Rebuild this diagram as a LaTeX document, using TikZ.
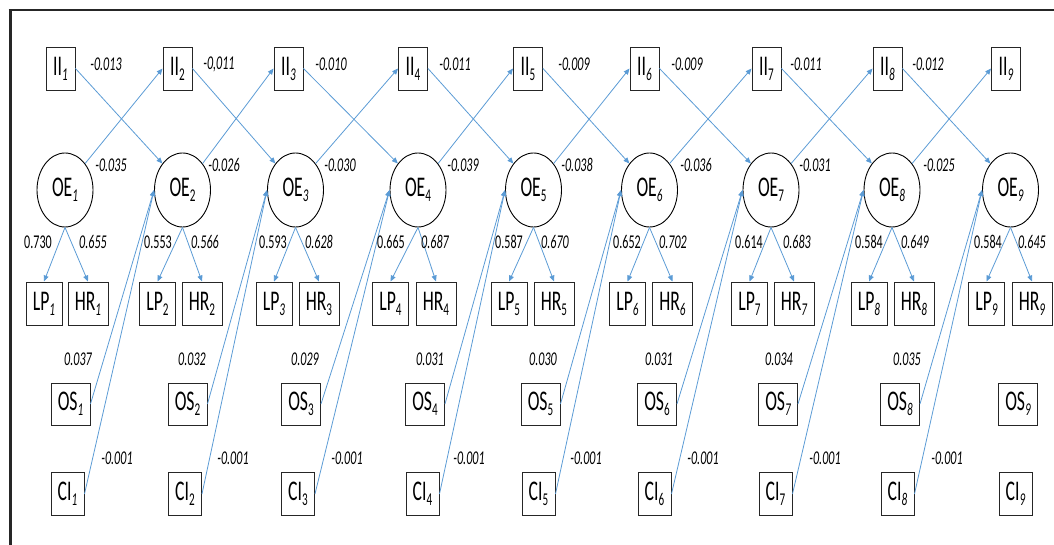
\documentclass[tikz,border=0pt]{standalone}
\usepackage{fontspec}
\setmainfont{Carlito}[FakeStretch=0.62]
\usetikzlibrary{arrows.meta,shapes.geometric}
\definecolor{arrowblue}{RGB}{91,155,213}
\definecolor{framegrey}{RGB}{38,38,38}
% subscripts: upright or italic
\newcommand\subup[1]{\raisebox{-5pt}{\fontsize{18}{18}\selectfont\upshape #1}}
\newcommand\subit[1]{\raisebox{-5pt}{\fontsize{18}{18}\selectfont\itshape #1}}
\begin{document}
\begin{tikzpicture}[x=1pt,y=-1pt,
  box/.style={draw=black!85, line width=0.95pt, inner sep=0pt, minimum height=43pt,
    font=\fontsize{28.5}{28.5}\selectfont},
  latent/.style={ellipse, draw=black, line width=0.9pt, inner sep=0pt,
    minimum width=56pt, minimum height=74pt, font=\fontsize{28.5}{28.5}\selectfont},
  arr/.style={draw=arrowblue, line width=0.8pt, -{Triangle[length=6pt,width=5pt]}},
  coef/.style={inner sep=0pt, font=\fontsize{19.5}{19.5}\selectfont\itshape},
  coefup/.style={inner sep=0pt, font=\fontsize{19.5}{19.5}\selectfont},
  frame/.style={draw=framegrey}]
\useasboundingbox (0,0) rectangle (1054,545);

% frame
\draw[frame, line width=3pt] (10,545) -- (10,10);
\draw[frame, line width=2pt] (8.5,10) -- (1054,10);

% observed indicators II
\foreach \i/\x/\s in {1/60.5/subit,2/177.5/subup,3/288.5/subit,4/413/subup,5/528/subup,
    6/644.5/subit,7/766.5/subup,8/887.5/subit,9/1006/subit}
  \node[box, minimum width=29pt] (II\i) at (\x,68.5) {II\csname\s\endcsname{\i}};

% latent OE
\foreach \i/\x/\s in {1/65/subit,2/182.5/subup,3/295.5/subit,4/418/subup,5/533.5/subup,
    6/649.5/subit,7/771/subup,8/892/subit,9/1010.5/subit}
  \node[latent] (OE\i) at (\x,190) {OE\csname\s\endcsname{\i}};

% indicators LP and HR
\foreach \i/\x/\s in {1/44/subit,2/157.5/subup,3/274/subit,4/390.5/subup,5/509/subup,
    6/627.5/subit,7/749.5/subup,8/869/subit,9/986.5/subit}
  \node[box, minimum width=36pt] (LP\i) at (\x,303.5) {LP\csname\s\endcsname{\i}};
\foreach \i/\x/\s in {1/88/subit,2/202/subup,3/319/subup,4/436/subup,5/554/subup,
    6/672.5/subit,7/794/subit,8/914/subit,9/1032/subit}
  \node[box, minimum width=40pt] (HR\i) at (\x,303.5) {HR\csname\s\endcsname{\i}};

% covariates OS and CI
\foreach \i/\x/\s in {1/70.5/subit,2/187.5/subup,3/301/subup,4/425/subup,5/540.5/subup,
    6/657/subup,7/778/subit,8/900/subit,9/1018/subit}
  \node[box, minimum width=39pt, minimum height=42pt] (OS\i) at (\x,404) {OS\csname\s\endcsname{\i}};
\foreach \i/\x/\s in {1/67.5/subit,2/185/subup,3/298/subup,4/422.5/subup,5/538.5/subup,
    6/654.5/subup,7/775.5/subup,8/897.5/subit,9/1015.5/subit}
  \node[box, minimum width=33pt] (CI\i) at (\x,494) {CI\csname\s\endcsname{\i}};

% loadings
\foreach \i in {1,...,9} {
  \draw[arr] (OE\i.south) -- (LP\i.north);
  \draw[arr] (OE\i.south) -- (HR\i.north);
}

% cross-lagged and covariate paths
\foreach \i in {1,...,8} {
  \pgfmathtruncatemacro\j{\i+1}
  \draw[arr] (II\i.east) -- (OE\j.north west);
  \draw[arr] (OE\i.north east) -- (II\j.west);
  \draw[arr] (OS\i.east) -- (OE\j.west);
  \draw[arr] (CI\i.east) -- (OE\j.west);
}

% coefficients II -> OE
\foreach \i/\x/\v in {1/106/-0.013,2/219/{-0,011},3/331/-0.010,4/455/-0.011,5/574/-0.009,
    6/687/-0.009,7/806/-0.011,8/928/-0.012}
  \node[coef] (cII\i) at (\x,64) {\v};
% coefficients OE -> II
\foreach \i/\x/\v in {1/111/-0.035,2/224/-0.026,3/340/-0.030,4/463/-0.039,5/577/-0.038,
    6/696/-0.036,7/815/-0.031,8/939/-0.025}
  \node[coef] (cOE\i) at (\x,165) {\v};
% loadings on LP and HR
\foreach \i/\x/\v in {1/38/0.730,2/158/0.553,3/273/0.593,4/391/0.665,5/509/0.587,
    6/627/0.652,7/749/0.614,8/869/0.584,9/988/0.584}
  \node[coefup] (cLP\i) at (\x,242) {\v};
\foreach \i/\x/\v in {1/93/0.655,2/205/0.566,3/319/0.628,4/435/0.687,5/555/0.670,
    6/673/0.702,7/797/0.683,8/915/0.649,9/1032/0.645}
  \node[coef] (cHR\i) at (\x,242) {\v};
% coefficients OS -> OE
\foreach \i/\x/\v in {1/78/0.037,2/192/0.032,3/305/0.029,4/430/0.031,5/543/0.030,
    6/659/0.031,7/779/0.034,8/907/0.035}
  \node[coef] (cOS\i) at (\x,359) {\v};
% coefficients CI -> OE
\foreach \i/\x in {1/117,2/233,3/347,4/469,5/586,6/703,7/825,8/947}
  \node[coef] (cCI\i) at (\x,458) {-0.001};
\end{tikzpicture}
\end{document}
